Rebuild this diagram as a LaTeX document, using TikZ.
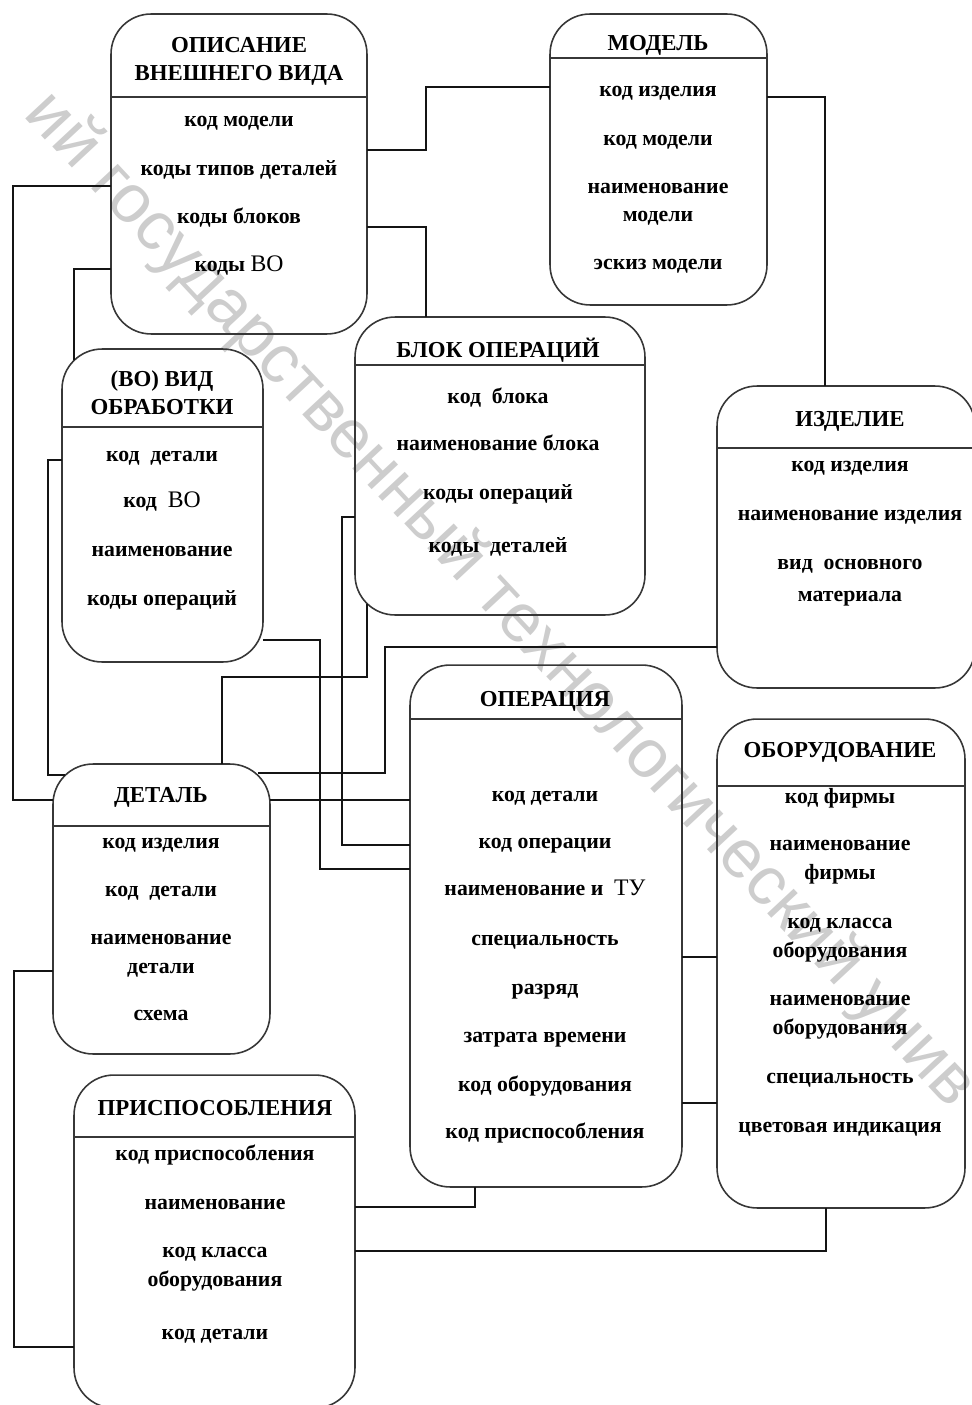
\documentclass[tikz,border=0pt]{standalone}
\usepackage{fontspec}
\setmainfont{Liberation Serif}
\newfontfamily\wmfont{Liberation Sans}
\definecolor{BoxColor}{RGB}{55,55,55}
\definecolor{LinkColor}{RGB}{20,20,20}
\definecolor{WatermarkColor}{RGB}{205,205,205}
\usepackage{tikz}
\usetikzlibrary{positioning, calc}
\tikzstyle{entity} = [draw=BoxColor, line width=0.9pt, rounded corners=0.8cm, inner sep=0pt, outer sep=0pt]
\tikzstyle{divider} = [draw=BoxColor, line width=0.9pt]
\tikzstyle{title} = [anchor=base, align=center, inner sep=0pt, font=\fontsize{13}{16}\selectfont\bfseries]
\tikzstyle{field} = [anchor=base, align=center, inner sep=0pt, font=\fontsize{12.4}{16}\selectfont\bfseries]
\tikzstyle{link} = [LinkColor, line width=0.8pt]
\newcommand{\rg}[1]{{\fontsize{13.5}{16}\selectfont\mdseries #1}}

\begin{document}
\begin{tikzpicture}[x=0.02cm, y=-0.02cm]
            \useasboundingbox (0,0) rectangle (972,1405);

            % Watermark
            \node[WatermarkColor, rotate=-47, inner sep=0pt, font=\wmfont\fontsize{39}{39}\selectfont] (wm) at (500,600) {ий государственный технологический унив};

            % Entities
            \node[entity, minimum width=5.12cm, minimum height=6.4cm] (opis) at (239,174) {};
            \node[entity, minimum width=4.34cm, minimum height=5.82cm] (model) at (658.5,159.5) {};
            \node[entity, minimum width=4.02cm, minimum height=6.26cm] (vo) at (162.5,505.5) {};
            \node[entity, minimum width=5.8cm, minimum height=5.96cm] (blok) at (500,466) {};
            \node[entity, minimum width=5.16cm, minimum height=6.04cm] (izd) at (846,537) {};
            \node[entity, minimum width=5.44cm, minimum height=10.44cm] (oper) at (546,926) {};
            \node[entity, minimum width=4.96cm, minimum height=9.78cm] (obor) at (841,963.5) {};
            \node[entity, minimum width=4.34cm, minimum height=5.8cm] (det) at (161.5,909) {};
            \node[entity, minimum width=5.62cm, minimum height=6.66cm] (prisp) at (214.5,1241.5) {};

            % Header lines
            \draw[divider] (opis.west |- 0,97) -- (opis.east |- 0,97);
            \draw[divider] (model.west |- 0,58) -- (model.east |- 0,58);
            \draw[divider] (vo.west |- 0,427) -- (vo.east |- 0,427);
            \draw[divider] (blok.west |- 0,365) -- (blok.east |- 0,365);
            \draw[divider] (izd.west |- 0,448) -- (izd.east |- 0,448);
            \draw[divider] (oper.west |- 0,719) -- (oper.east |- 0,719);
            \draw[divider] (obor.west |- 0,786) -- (obor.east |- 0,786);
            \draw[divider] (det.west |- 0,826) -- (det.east |- 0,826);
            \draw[divider] (prisp.west |- 0,1137) -- (prisp.east |- 0,1137);

            % ОПИСАНИЕ ВНЕШНЕГО ВИДА
            \node[title] (opis-t) at (239,81) {ОПИСАНИЕ\\ВНЕШНЕГО ВИДА};
            \node[field] (opis-1) at (239,127) {код модели};
            \node[field] (opis-2) at (239,176) {коды типов деталей};
            \node[field] (opis-3) at (239,224) {коды блоков};
            \node[field] (opis-4) at (239,272) {коды \rg{ВО}};

            % МОДЕЛЬ
            \node[title] (model-t) at (658,51) {МОДЕЛЬ};
            \node[field] (model-1) at (658,97) {код изделия};
            \node[field] (model-2) at (658,146) {код модели};
            \node[field] (model-3) at (658,222) {наименование\\модели};
            \node[field] (model-4) at (658,270) {эскиз модели};

            % (ВО) ВИД ОБРАБОТКИ
            \node[title] (vo-t) at (162,415) {(ВО) ВИД\\ОБРАБОТКИ};
            \node[field] (vo-1) at (162,461) {код~~детали};
            \node[field] (vo-2) at (162,507) {код~~\rg{ВО}};
            \node[field] (vo-3) at (162,556) {наименование};
            \node[field] (vo-4) at (162,605) {коды операций};

            % БЛОК ОПЕРАЦИЙ
            \node[title] (blok-t) at (498,358) {БЛОК ОПЕРАЦИЙ};
            \node[field] (blok-1) at (498,403) {код~~блока};
            \node[field] (blok-2) at (498,450) {наименование блока};
            \node[field] (blok-3) at (498,499) {коды операций};
            \node[field] (blok-4) at (498,552) {коды~~деталей};

            % ИЗДЕЛИЕ
            \node[title] (izd-t) at (850,426) {ИЗДЕЛИЕ};
            \node[field] (izd-1) at (850,471) {код изделия};
            \node[field] (izd-2) at (850,520) {наименование изделия};
            \node[field] (izd-3) at (850,601) {вид~~основного\\[2pt]материала};

            % ОПЕРАЦИЯ
            \node[title] (oper-t) at (545,706) {ОПЕРАЦИЯ};
            \node[field] (oper-1) at (545,801) {код детали};
            \node[field] (oper-2) at (545,848) {код операции};
            \node[field] (oper-3) at (545,895) {наименование и~~\rg{ТУ}};
            \node[field] (oper-4) at (545,945) {специальность};
            \node[field] (oper-5) at (545,994) {разряд};
            \node[field] (oper-6) at (545,1042) {затрата времени};
            \node[field] (oper-7) at (545,1091) {код оборудования};
            \node[field] (oper-8) at (545,1138) {код приспособления};

            % ОБОРУДОВАНИЕ
            \node[title] (obor-t) at (840,757) {ОБОРУДОВАНИЕ};
            \node[field] (obor-1) at (840,803) {код фирмы};
            \node[field] (obor-2) at (840,879) {наименование\\фирмы};
            \node[field] (obor-3) at (840,957) {код класса\\оборудования};
            \node[field] (obor-4) at (840,1034) {наименование\\оборудования};
            \node[field] (obor-5) at (840,1083) {специальность};
            \node[field] (obor-6) at (840,1132) {цветовая индикация};

            % ДЕТАЛЬ
            \node[title] (det-t) at (161,802) {ДЕТАЛЬ};
            \node[field] (det-1) at (161,848) {код изделия};
            \node[field] (det-2) at (161,896) {код~~детали};
            \node[field] (det-3) at (161,973) {наименование\\детали};
            \node[field] (det-4) at (161,1020) {схема};

            % ПРИСПОСОБЛЕНИЯ
            \node[title] (prisp-t) at (215,1115) {ПРИСПОСОБЛЕНИЯ};
            \node[field] (prisp-1) at (215,1160) {код приспособления};
            \node[field] (prisp-2) at (215,1209) {наименование};
            \node[field] (prisp-3) at (215,1286) {код класса\\оборудования};
            \node[field] (prisp-4) at (215,1339) {код детали};

            % Connectors
            \draw[link] (opis.east |- 0,150) -- (426,150) |- (model.west |- 0,87);
            \draw[link] (model.east |- 0,97) -| (izd.north -| 825,0);
            \draw[link] (opis.east |- 0,227) -| (blok.north -| 426,0);
            \draw[link] (opis.west |- 0,186) -- (13,186) |- (det.west |- 0,800);
            \draw[link] (opis.west |- 0,269) -| ($(vo.north west)+(12,11)$);
            \draw[link] (vo.west |- 0,460) -- (48,460) |- ($(det.north west)+(12,11)$);
            \draw[link] (vo.east |- 0,640) -- (320,640) |- (oper.west |- 0,869);
            \draw[link] (blok.west |- 0,517) -- (342,517) |- (oper.west |- 0,845);
            \draw[link] ($(blok.south west)+(12,-11)$) |- (222,677) -- (det.north -| 222,0);
            \draw[link] (izd.west |- 0,647) -- (385,647) |- ($(det.north east)+(-12,9)$);
            \draw[link] (det.east |- 0,800) -- (oper.west |- 0,800);
            \draw[link] (oper.east |- 0,957) -- (obor.west |- 0,957);
            \draw[link] (oper.east |- 0,1103) -- (obor.west |- 0,1103);
            \draw[link] (oper.south -| 475,0) |- (prisp.east |- 0,1207);
            \draw[link] (obor.south -| 826,0) |- (prisp.east |- 0,1251);
            \draw[link] (det.west |- 0,971) -- (14,971) |- (prisp.west |- 0,1347);
        \end{tikzpicture}
\end{document}
